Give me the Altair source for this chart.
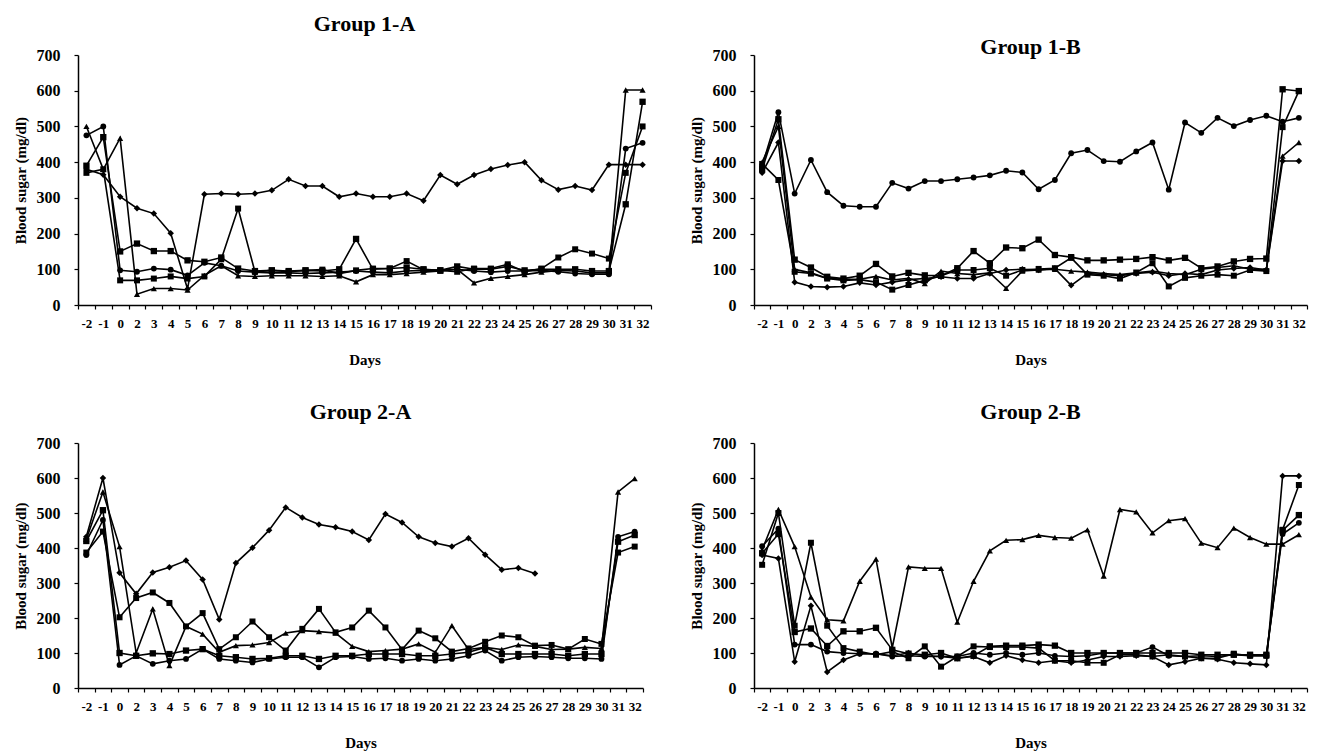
import altair as alt
import pandas as pd

days = ["-2", "-1", "0", "2", "3", "4", "5", "6", "7", "8", "9", "10", "11", "12",
        "13", "14", "15", "16", "17", "18", "19", "20", "21", "22", "23", "24", "25",
        "26", "27", "28", "29", "30", "31", "32"]

series_names = ["Series 1", "Series 2", "Series 3", "Series 4", "Series 5"]
series_shapes = ["diamond", "square", "triangle-up", "square", "circle"]
series_sizes = [42, 34, 60, 110, 38]

panel_titles = ["Group 1-A", "Group 1-B", "Group 2-A", "Group 2-B"]

# Group 1-A
g1a_s1 = [380, 365, 303, 271, 256, 201, 45, 310, 312, 310, 312, 321, 352, 333, 333, 303, 312,
          303, 303, 312, 292, 364, 338, 364, 381, 392, 400, 349, 323, 333, 322, 393, 393, 393]
g1a_s2 = [390, 470, 150, 172, 151, 151, 125, 121, 133, 102, 95, 97, 95, 97, 95, 100, 185,
          100, 102, 105, 100, 97, 108, 100, 100, 108, 97, 100, 100, 100, 95, 95, 282, 569]
g1a_s3 = [500, 380, 467, 30, 46, 46, 42, 83, 110, 82, 80, 82, 82, 82, 80, 82, 65,
          85, 85, 88, 92, 95, 100, 62, 75, 80, 85, 92, 97, 95, 90, 90, 602, 602]
g1a_s4 = [370, 380, 69, 69, 74, 80, 74, 80, 128, 270, 93, 97, 93, 97, 99, 88, 97,
          102, 102, 123, 99, 97, 93, 102, 102, 114, 93, 102, 133, 156, 144, 130, 370, 500]
g1a_s5 = [475, 500, 97, 93, 102, 99, 83, 118, 110, 95, 92, 90, 90, 88, 90, 92, 95,
          92, 90, 95, 97, 97, 100, 95, 92, 95, 95, 97, 93, 88, 86, 86, 438, 454]

# Group 1-B
g1b_s1 = [370, 455, 64, 52, 50, 52, 62, 56, 64, 71, 74, 79, 74, 74, 88, 98, 100,
          98, 102, 55, 88, 85, 82, 88, 92, 82, 88, 85, 98, 102, 105, 98, 403, 403]
g1b_s2 = [380, 520, 127, 105, 79, 74, 82, 115, 80, 90, 83, 82, 103, 151, 117, 161, 159,
          183, 140, 134, 125, 125, 127, 129, 134, 125, 132, 103, 108, 122, 129, 130, 604, 599]
g1b_s3 = [400, 500, 100, 90, 75, 72, 72, 80, 70, 75, 60, 95, 88, 85, 90, 47, 95,
          98, 100, 95, 92, 88, 85, 90, 95, 88, 85, 100, 105, 110, 100, 100, 417, 455]
g1b_s4 = [395, 350, 93, 88, 74, 69, 71, 64, 43, 56, 69, 82, 98, 98, 103, 82, 98,
          101, 103, 132, 85, 82, 74, 91, 117, 52, 76, 82, 85, 82, 98, 95, 498, 599]
g1b_s5 = [390, 540, 312, 406, 316, 278, 275, 275, 342, 326, 347, 347, 352, 357, 363, 376, 371,
          324, 350, 425, 434, 403, 401, 430, 455, 323, 511, 482, 524, 501, 518, 530, 513, 524]

# Group 2-A
g2a_s1 = [432, 600, 329, 269, 330, 345, 364, 310, 196, 357, 401, 451, 516, 487, 467, 459, 447,
          423, 497, 473, 432, 414, 404, 428, 381, 338, 343, 327, None, None, None, None, None, None]
g2a_s2 = [420, 508, 100, 92, 99, 97, 107, 111, 92, 88, 83, 85, 92, 92, 83, 92, 92,
          97, 97, 97, 92, 92, 97, 102, 116, 97, 97, 97, 97, 92, 97, 97, 418, 437]
g2a_s3 = [425, 560, 404, 100, 226, 64, 176, 154, 102, 121, 123, 130, 157, 164, 161, 157, 119,
          104, 107, 111, 126, 102, 178, 110, 116, 110, 123, 119, 110, 111, 116, 113, 560, 598]
g2a_s4 = [387, 447, 202, 257, 273, 243, 176, 214, 111, 145, 190, 145, 107, 169, 226, 159, 173,
          221, 173, 110, 164, 142, 104, 113, 132, 150, 145, 121, 123, 111, 140, 126, 387, 404]
g2a_s5 = [380, 480, 66, 92, 69, 78, 83, 111, 83, 78, 73, 83, 88, 88, 59, 88, 90,
          83, 85, 78, 83, 78, 83, 92, 107, 78, 88, 90, 88, 85, 85, 83, 432, 447]

# Group 2-B
g2b_s1 = [380, 370, 75, 235, 46, 80, 98, 98, 92, 100, 92, 90, 85, 90, 72, 92, 80,
          72, 78, 72, 80, 90, 90, 92, 90, 66, 75, 85, 82, 72, 69, 66, 606, 606]
g2b_s2 = [385, 440, 160, 170, 120, 162, 162, 172, 109, 98, 95, 100, 85, 92, 119, 121, 121,
          124, 121, 100, 100, 100, 100, 100, 100, 100, 100, 95, 95, 95, 95, 95, 450, 494]
g2b_s3 = [395, 510, 404, 260, 195, 192, 305, 368, 115, 346, 342, 342, 188, 305, 392, 422, 424,
          436, 430, 428, 452, 320, 510, 503, 443, 478, 484, 414, 401, 457, 430, 411, 411, 438]
g2b_s4 = [352, 500, 178, 415, 178, 114, 104, 95, 104, 85, 119, 61, 90, 119, 117, 117, 117,
          114, 78, 78, 72, 72, 95, 95, 90, 95, 90, 85, 85, 98, 92, 92, 452, 580]
g2b_s5 = [405, 455, 124, 124, 104, 100, 98, 98, 90, 92, 90, 90, 90, 100, 95, 100, 95,
          100, 92, 90, 92, 100, 100, 100, 117, 92, 90, 92, 90, 95, 92, 92, 440, 472]

panel_series = [
    [g1a_s1, g1a_s2, g1a_s3, g1a_s4, g1a_s5],
    [g1b_s1, g1b_s2, g1b_s3, g1b_s4, g1b_s5],
    [g2a_s1, g2a_s2, g2a_s3, g2a_s4, g2a_s5],
    [g2b_s1, g2b_s2, g2b_s3, g2b_s4, g2b_s5],
]

FONT = "Liberation Serif"


def make_df(series_list):
    rows = []
    for name, vals in zip(series_names, series_list):
        for d, v in zip(days, vals):
            if v is not None:
                rows.append({"series": name, "day": d, "value": v})
    return pd.DataFrame(rows)


def panel(idx, w, h, title_dy=0):
    df = make_df(panel_series[idx])
    base = alt.Chart(df).encode(
        x=alt.X("day:O", sort=days,
                scale=alt.Scale(type="band", paddingInner=0, paddingOuter=0),
                bandPosition=0.5,
                axis=alt.Axis(title="Days", tickBand="extent", labelAngle=0,
                              labelOverlap=False, labelFontSize=13, labelPadding=8,
                              tickSize=4, titleFontSize=15, titlePadding=22)),
        y=alt.Y("value:Q", scale=alt.Scale(domain=[0, 700], nice=False),
                axis=alt.Axis(title="Blood sugar (mg/dl)", values=[0, 100, 200, 300, 400, 500, 600, 700],
                              labelFontSize=16, labelPadding=14, tickSize=4,
                              titleFontSize=15, titlePadding=8)),
        detail="series:N",
    )
    lines = base.mark_line(color="black", strokeWidth=1.6)
    pts = base.mark_point(filled=True, color="black", opacity=1).encode(
        shape=alt.Shape("series:N", scale=alt.Scale(domain=series_names, range=series_shapes), legend=None),
        size=alt.Size("series:N", scale=alt.Scale(domain=series_names, range=series_sizes), legend=None),
    )
    return alt.layer(lines, pts).properties(
        width=w, height=h,
        title=alt.Title(panel_titles[idx], dy=title_dy),
    )


row1 = alt.hconcat(panel(0, 573, 250), panel(1, 553, 250, title_dy=23), spacing=37)
row2 = alt.hconcat(panel(2, 565, 245), panel(3, 553, 245), spacing=45)

chart = alt.vconcat(row1, row2, spacing=34).configure_view(
    strokeWidth=0
).configure_axis(
    grid=False, domainColor="black", domainWidth=1.5, tickColor="black", tickWidth=1.2,
    labelColor="black", titleColor="black", labelFont=FONT, titleFont=FONT,
    labelFontWeight="bold", titleFontWeight="bold",
).configure_title(
    font=FONT, fontSize=22, fontWeight="bold", color="black", anchor="middle", offset=11,
).properties(
    background="white",
    padding={"left": 5, "right": 5, "top": 5, "bottom": 3},
)

chart.save("out.html", embed_options={"renderer": "svg", "actions": False})
